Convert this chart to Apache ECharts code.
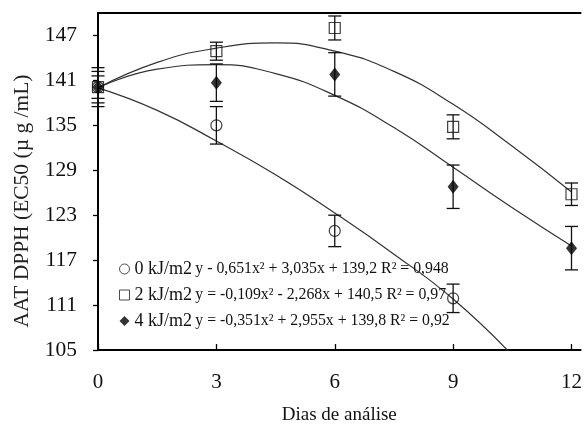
<!DOCTYPE html>
<html>
<head>
<meta charset="utf-8">
<script src="https://cdn.jsdelivr.net/npm/echarts@6/dist/echarts.min.js"></script>
<style>
    html, body { margin: 0; padding: 0; background: #fff; }
    #chart { width: 585px; height: 430px; }
</style>
</head>
<body>
<div id="chart"></div>
<script>
// dias de análise
var days = [0, 3, 6, 9, 12];
var xTicks = [0, 3, 6, 9, 12];
var yTicks = [105, 111, 117, 123, 129, 135, 141, 147];

// médias e desvios
var mean0 = [140.1, 135.0, 120.9, 111.9, null];
var err0 = [2.6, 2.5, 2.1, 1.9, null];
var mean2 = [140.1, 144.9, 148.0, 134.8, 125.8];
var err2 = [1.5, 1.2, 1.6, 1.6, 1.5];
var mean4 = [140.1, 140.7, 141.8, 126.8, 118.6];
var err4 = [2.1, 2.5, 2.9, 2.9, 2.9];

var trendX = [0, 1.5, 3, 4.5, 6, 7.5, 9, 10.5, 12];
var trend0 = [140.0, 137.0, 132.9, 128.4, 123.3, 117.8, 111.8, 104.3, null];
var trend2 = [140.0, 143.4, 145.3, 146.0, 144.9, 142.2, 137.8, 132.2, 126.1];
var trend4 = [140.0, 142.5, 143.1, 141.9, 139.0, 134.7, 129.4, 124.0, 118.9];

var names = ["0 kJ/m2", "2 kJ/m2", "4 kJ/m2"];
var equations = {
    "0 kJ/m2": "y - 0,651x² + 3,035x + 139,2 R² = 0,948",
    "2 kJ/m2": "y = -0,109x² - 2,268x + 140,5 R² = 0,97",
    "4 kJ/m2": "y = -0,351x² + 2,955x + 139,8 R² = 0,92"
};

var FONT = "Liberation Serif";

function pairs(xs, ys) {
    var out = [];
    for (var i = 0; i < xs.length; i++) {
        if (ys[i] != null) out.push([xs[i], ys[i]]);
    }
    return out;
}

function errData(means, errs) {
    var out = [];
    for (var i = 0; i < days.length; i++) {
        if (means[i] != null) out.push([days[i], means[i] - errs[i], means[i] + errs[i]]);
    }
    return out;
}

function renderErr(params, api) {
    var x = api.value(0);
    var lo = api.coord([x, api.value(1)]);
    var hi = api.coord([x, api.value(2)]);
    var w = 6.5;
    var st = { stroke: "#111", lineWidth: 1.3 };
    return {
        type: "group",
        children: [
            { type: "line", shape: { x1: hi[0], y1: hi[1], x2: lo[0], y2: lo[1] }, style: st },
            { type: "line", shape: { x1: hi[0] - w, y1: hi[1], x2: hi[0] + w, y2: hi[1] }, style: st },
            { type: "line", shape: { x1: lo[0] - w, y1: lo[1], x2: lo[0] + w, y2: lo[1] }, style: st }
        ]
    };
}

function trendSeries(name, ys) {
    return {
        name: name,
        type: "line",
        data: pairs(trendX, ys),
        smooth: true,
        showSymbol: false,
        silent: true,
        z: 2,
        lineStyle: { color: "#333", width: 1.2 }
    };
}

function errSeries(name, means, errs) {
    return {
        name: name,
        type: "custom",
        data: errData(means, errs),
        renderItem: renderErr,
        encode: { x: 0, y: [1, 2] },
        silent: true,
        z: 3
    };
}

var chart = echarts.init(document.getElementById("chart"), null, { renderer: "canvas" });

chart.setOption({
    animation: false,
    backgroundColor: "#fff",
    grid: { left: 98, right: 0, top: 13, bottom: 74 },
    legend: {
        orient: "vertical",
        left: 114,
        top: 255,
        itemWidth: 10,
        itemHeight: 10,
        itemGap: 8,
        selectedMode: false,
        data: [
            { name: names[0], icon: "circle", itemStyle: { color: "#fff", borderColor: "#222", borderWidth: 1 } },
            { name: names[1], icon: "rect", itemStyle: { color: "#fff", borderColor: "#222", borderWidth: 1 } },
            { name: names[2], icon: "diamond", itemStyle: { color: "#000", borderWidth: 0 } }
        ],
        formatter: function (name) {
            return "{lab|" + name + "} {eq|" + equations[name] + "}";
        },
        textStyle: {
            rich: {
                lab: { fontFamily: FONT, fontSize: 18, color: "#111", lineHeight: 19 },
                eq: { fontFamily: FONT, fontSize: 15.8, color: "#111", lineHeight: 19 }
            }
        }
    },
    xAxis: [
        {
            type: "value",
            min: 0,
            max: 12.23,
            interval: 3,
            name: "Dias de análise",
            nameLocation: "middle",
            nameGap: 56,
            nameTextStyle: { fontFamily: FONT, fontSize: 19, color: "#111" },
            axisLine: { show: true, lineStyle: { color: "#000", width: 2 } },
            axisTick: { show: true, inside: true, length: 6, customValues: xTicks, lineStyle: { color: "#000", width: 1.3 } },
            axisLabel: { customValues: xTicks, margin: 22, fontFamily: FONT, fontSize: 21, color: "#111" },
            splitLine: { show: false }
        },
        {
            type: "value",
            position: "top",
            min: 0,
            max: 12.23,
            axisLine: { show: true, onZero: false, lineStyle: { color: "#000", width: 2 } },
            axisTick: { show: false },
            axisLabel: { show: false },
            splitLine: { show: false }
        }
    ],
    yAxis: {
        type: "value",
        min: 105,
        max: 150,
        interval: 6,
        axisLine: { show: true, lineStyle: { color: "#000", width: 2 } },
        axisTick: { show: true, length: 5, customValues: yTicks, lineStyle: { color: "#000", width: 1.3 } },
        axisLabel: { customValues: yTicks, margin: 21, fontFamily: FONT, fontSize: 21.5, color: "#111" },
        splitLine: { show: false }
    },
    graphic: [
        {
            type: "text",
            x: 22,
            y: 201,
            rotation: Math.PI / 2,
            style: {
                text: "AAT DPPH (EC50 (µ g /mL)",
                font: "21.5px '" + FONT + "'",
                fill: "#222",
                align: "center",
                verticalAlign: "middle"
            }
        }
    ],
    series: [
        trendSeries("t0", trend0),
        trendSeries("t2", trend2),
        trendSeries("t4", trend4),
        errSeries("e0", mean0, err0),
        errSeries("e2", mean2, err2),
        errSeries("e4", mean4, err4),
        {
            name: names[0],
            type: "scatter",
            data: pairs(days, mean0),
            symbol: "circle",
            symbolSize: 11,
            z: 4,
            itemStyle: { color: "rgba(255,255,255,0)", borderColor: "#111", borderWidth: 1.2 }
        },
        {
            name: names[1],
            type: "scatter",
            data: pairs(days, mean2),
            symbol: "rect",
            symbolSize: 11,
            z: 5,
            itemStyle: { color: "rgba(255,255,255,0)", borderColor: "#111", borderWidth: 1.2 }
        },
        {
            name: names[2],
            type: "scatter",
            data: pairs(days, mean4),
            symbol: "diamond",
            symbolSize: [11, 14],
            z: 6,
            itemStyle: { color: "#000" }
        }
    ]
});
</script>
</body>
</html>
